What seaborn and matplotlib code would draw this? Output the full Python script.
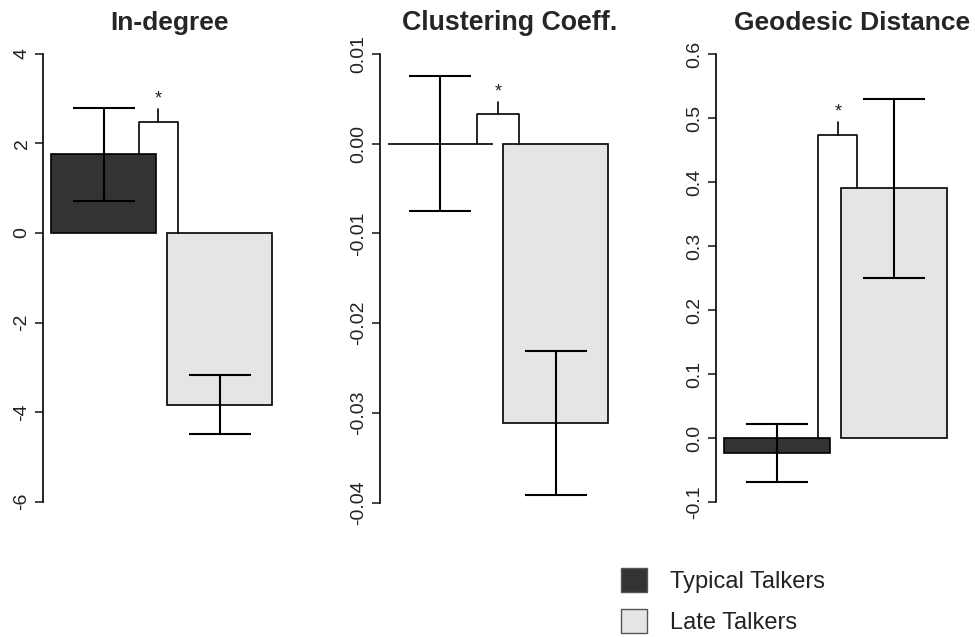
import matplotlib.pyplot as plt
import pandas as pd
import seaborn as sns
from matplotlib.patches import Patch

# groups and colours
groups = ["Typical Talkers", "Late Talkers"]
colors = ["#333333", "#e5e5e5"]

titles = ["In-degree", "Clustering Coeff.", "Geodesic Distance"]

# means and error bar half-widths
indeg_mean = [1.76, -3.84]
indeg_err = [1.04, 0.66]
clust_mean = [0.0, -0.0311]
clust_err = [0.0075, 0.0080]
geo_mean = [-0.023, 0.39]
geo_err = [0.045, 0.14]

indeg_ticks = [-6, -4, -2, 0, 2, 4]
indeg_labels = ["-6", "-4", "-2", "0", "2", "4"]
clust_ticks = [-0.04, -0.03, -0.02, -0.01, 0.00, 0.01]
clust_labels = ["-0.04", "-0.03", "-0.02", "-0.01", "0.00", "0.01"]
geo_ticks = [-0.1, 0.0, 0.1, 0.2, 0.3, 0.4, 0.5, 0.6]
geo_labels = ["-0.1", "0.0", "0.1", "0.2", "0.3", "0.4", "0.5", "0.6"]

# significance brackets (height of bracket and of the small tick above it)
bracket_y = [2.48, 0.0033, 0.473]
bracket_tick = [2.78, 0.0046, 0.494]

sns.set_style("white")
plt.rcParams["font.family"] = ["Liberation Sans", "DejaVu Sans"]
plt.rcParams["axes.unicode_minus"] = False

fig = plt.figure(figsize=(9.75, 6.37), dpi=100)

W, H = 975, 637
top_px, bot_px = 40, 520
# left px, right px of each panel
panel_px = [(43, 295), (380, 640), (716, 988)]
ylims = [(-6.41, 4.31), (-0.04193, 0.01153), (-0.1281, 0.6219)]
xlims = [(-0.524, 1.650), (-0.524, 1.729), (-0.524, 1.811)]
br_left = [0.30, 0.32, 0.355]
br_right = [0.64, 0.68, 0.69]

means = [indeg_mean, clust_mean, geo_mean]
errs = [indeg_err, clust_err, geo_err]
ticks = [indeg_ticks, clust_ticks, geo_ticks]
labels = [indeg_labels, clust_labels, geo_labels]
title_sizes = [19, 19.3, 19]

for i in range(3):
    l, r = panel_px[i]
    ax = fig.add_axes([l / W, 1 - bot_px / H, (r - l) / W, (bot_px - top_px) / H])
    df = pd.DataFrame({"group": groups, "value": means[i]})
    sns.barplot(data=df, x="group", y="value", hue="group", palette=colors,
                order=groups, hue_order=groups, width=0.91, saturation=1,
                edgecolor="black", linewidth=1.2, errorbar=None, legend=False, ax=ax)
    ax.errorbar(x=list(range(len(groups))), y=means[i], yerr=errs[i], fmt="none",
                ecolor="black", elinewidth=1.5, capsize=22.5, capthick=1.5, zorder=5)

    # bracket
    lb = max(means[i][0], 0)
    rb = max(means[i][1], 0)
    mid = (br_left[i] + br_right[i]) / 2
    ax.plot([br_left[i], br_left[i], br_right[i], br_right[i]],
            [lb, bracket_y[i], bracket_y[i], rb], color="black", lw=1.2)
    ax.plot([mid, mid], [bracket_y[i], bracket_tick[i]], color="black", lw=1.2)
    ax.annotate("*", (mid, bracket_tick[i]), xytext=(0, 1), textcoords="offset points",
                ha="center", va="bottom", fontsize=13, color="#222222")

    ax.set_xlim(*xlims[i])
    ax.set_ylim(*ylims[i])
    ax.set_yticks(ticks[i])
    ax.set_yticklabels(labels[i], rotation=90, va="center", fontsize=14, color="#222222")
    ax.set_xticks([])
    ax.set_xlabel("")
    ax.set_ylabel("")
    for s in ["top", "right", "bottom"]:
        ax.spines[s].set_visible(False)
    ax.spines["left"].set_bounds(ticks[i][0], ticks[i][-1])
    ax.spines["left"].set_linewidth(1.2)
    ax.spines["left"].set_color("black")
    ax.tick_params(axis="y", left=True, direction="out", length=6, width=1.2, pad=3)
    ax.patch.set_alpha(0)
    ax.set_title(titles[i], fontsize=title_sizes[i], fontweight="bold", pad=7)

handles = [Patch(facecolor=c, edgecolor="#555555", linewidth=1) for c in colors]
fig.legend(handles, groups, loc="upper left", bbox_to_anchor=(621 / W, 1 - 568 / H),
           frameon=False, fontsize=17, handlelength=1.12, handleheight=1.2,
           handletextpad=0.95, labelspacing=0.68, borderpad=0, borderaxespad=0,
           labelcolor="#222222")

fig.savefig("out.png", dpi=100)
